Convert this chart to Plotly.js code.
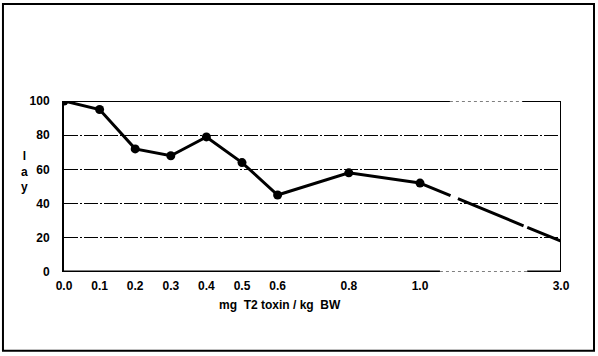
<!DOCTYPE html>
<html>
<head>
<meta charset="utf-8">
<script src="https://cdn.plot.ly/plotly-3.0.1.min.js"></script>
<style>
  html, body { margin: 0; padding: 0; background: #fff; }
  #chart { width: 598px; height: 356px; }
</style>
</head>
<body>
<div id="chart"></div>
<script>
// ---- data ----
const doses  = [0.0, 0.1, 0.2, 0.3, 0.4, 0.5, 0.6, 0.8, 1.0, 3.0];
const values = [100, 95, 72, 68, 79, 64, 45, 58, 52, 18];
const tickLabels = ['0.0', '0.1', '0.2', '0.3', '0.4', '0.5', '0.6', '0.8', '1.0', '3.0'];
const yTicks = [0, 20, 40, 60, 80, 100];

// broken x scale: linear up to 1.0, compressed beyond
const BREAK = 1.0, K = 0.198;
function xpos(d) { return d <= BREAK ? d : BREAK + (d - BREAK) * K; }
const XMAX = xpos(3.0);

const idxMain = doses.map((d, i) => i).filter(i => doses[i] <= BREAK);
const idxTail = doses.map((d, i) => i).filter(i => doses[i] >= BREAK);

const FAM = '"Liberation Sans", Arial, sans-serif';
const boldFont = { family: FAM, size: 12, color: '#000', weight: 'bold' };

const traces = [
  {
    x: idxMain.map(i => xpos(doses[i])),
    y: idxMain.map(i => values[i]),
    mode: 'lines+markers',
    line: { color: '#000', width: 3 },
    marker: { color: '#000', size: 9 },
    hoverinfo: 'skip'
  },
  {
    x: idxTail.map(i => xpos(doses[i])),
    y: idxTail.map(i => values[i]),
    mode: 'lines',
    line: { color: '#000', width: 3, dash: '33px,8px,71px,4px,80px' },
    hoverinfo: 'skip'
  }
];

// frame pieces with axis breaks (in axis units)
const TOP_B1 = 1.084, TOP_B2 = 1.287, BOT_B1 = 1.056, BOT_B2 = 1.301;
const shapes = [
  // outer frame
  { type: 'rect', xref: 'paper', yref: 'paper', x0: -0.1228, x1: 1.0664, y0: -0.461, y1: 1.567,
    line: { color: '#000', width: 2 } },
  // top line
  { type: 'line', xref: 'x', yref: 'y', x0: 0, x1: TOP_B1, y0: 100, y1: 100, line: { color: '#000', width: 2 } },
  { type: 'line', xref: 'x', yref: 'y', x0: TOP_B1, x1: TOP_B2, y0: 100, y1: 100, line: { color: '#000', width: 1, dash: 'dot' } },
  { type: 'line', xref: 'x', yref: 'y', x0: TOP_B2, x1: XMAX, y0: 100, y1: 100, line: { color: '#000', width: 2 } },
  // bottom line
  { type: 'line', xref: 'x', yref: 'y', x0: 0, x1: BOT_B1, y0: 0, y1: 0, line: { color: '#000', width: 3 } },
  { type: 'line', xref: 'x', yref: 'y', x0: BOT_B1, x1: BOT_B2, y0: 0, y1: 0, line: { color: '#000', width: 1, dash: 'dot' } },
  { type: 'line', xref: 'x', yref: 'y', x0: BOT_B2, x1: XMAX, y0: 0, y1: 0, line: { color: '#000', width: 3 } },
  // right line
  { type: 'line', xref: 'x', yref: 'y', x0: XMAX, x1: XMAX, y0: 0, y1: 100, line: { color: '#000', width: 2 } }
];

const layout = {
  width: 598, height: 356,
  margin: { l: 64, r: 37, t: 101, b: 84 },
  paper_bgcolor: '#fff', plot_bgcolor: '#fff',
  showlegend: false,
  font: { family: FAM, size: 12, color: '#000' },
  xaxis: {
    range: [0, XMAX],
    tickvals: doses.map(xpos),
    ticktext: tickLabels,
    showgrid: false, zeroline: false, showline: false,
    ticks: '', ticklabelstandoff: 5,
    tickfont: boldFont,
    fixedrange: true
  },
  yaxis: {
    range: [0, 100],
    tickvals: yTicks,
    showgrid: true, gridcolor: '#000', gridwidth: 1, griddash: '14px,2px,2px,2px',
    zeroline: false, showline: true, linecolor: '#000', linewidth: 2,
    ticks: '', ticklabelstandoff: 10,
    tickfont: boldFont,
    fixedrange: true
  },
  shapes: shapes,
  annotations: [
    { text: 'mg\u00a0\u00a0T2 toxin / kg\u00a0\u00a0BW', xref: 'paper', yref: 'paper',
      x: 0.4346, y: -0.195, xanchor: 'center', yanchor: 'middle', showarrow: false,
      font: boldFont },
    { text: 'l<br>a<br>y', xref: 'paper', yref: 'paper',
      x: -0.08, y: 0.585, xanchor: 'center', yanchor: 'middle', showarrow: false,
      font: boldFont }
  ]
};

Plotly.newPlot('chart', traces, layout, { displayModeBar: false, staticPlot: true });
</script>
</body>
</html>
